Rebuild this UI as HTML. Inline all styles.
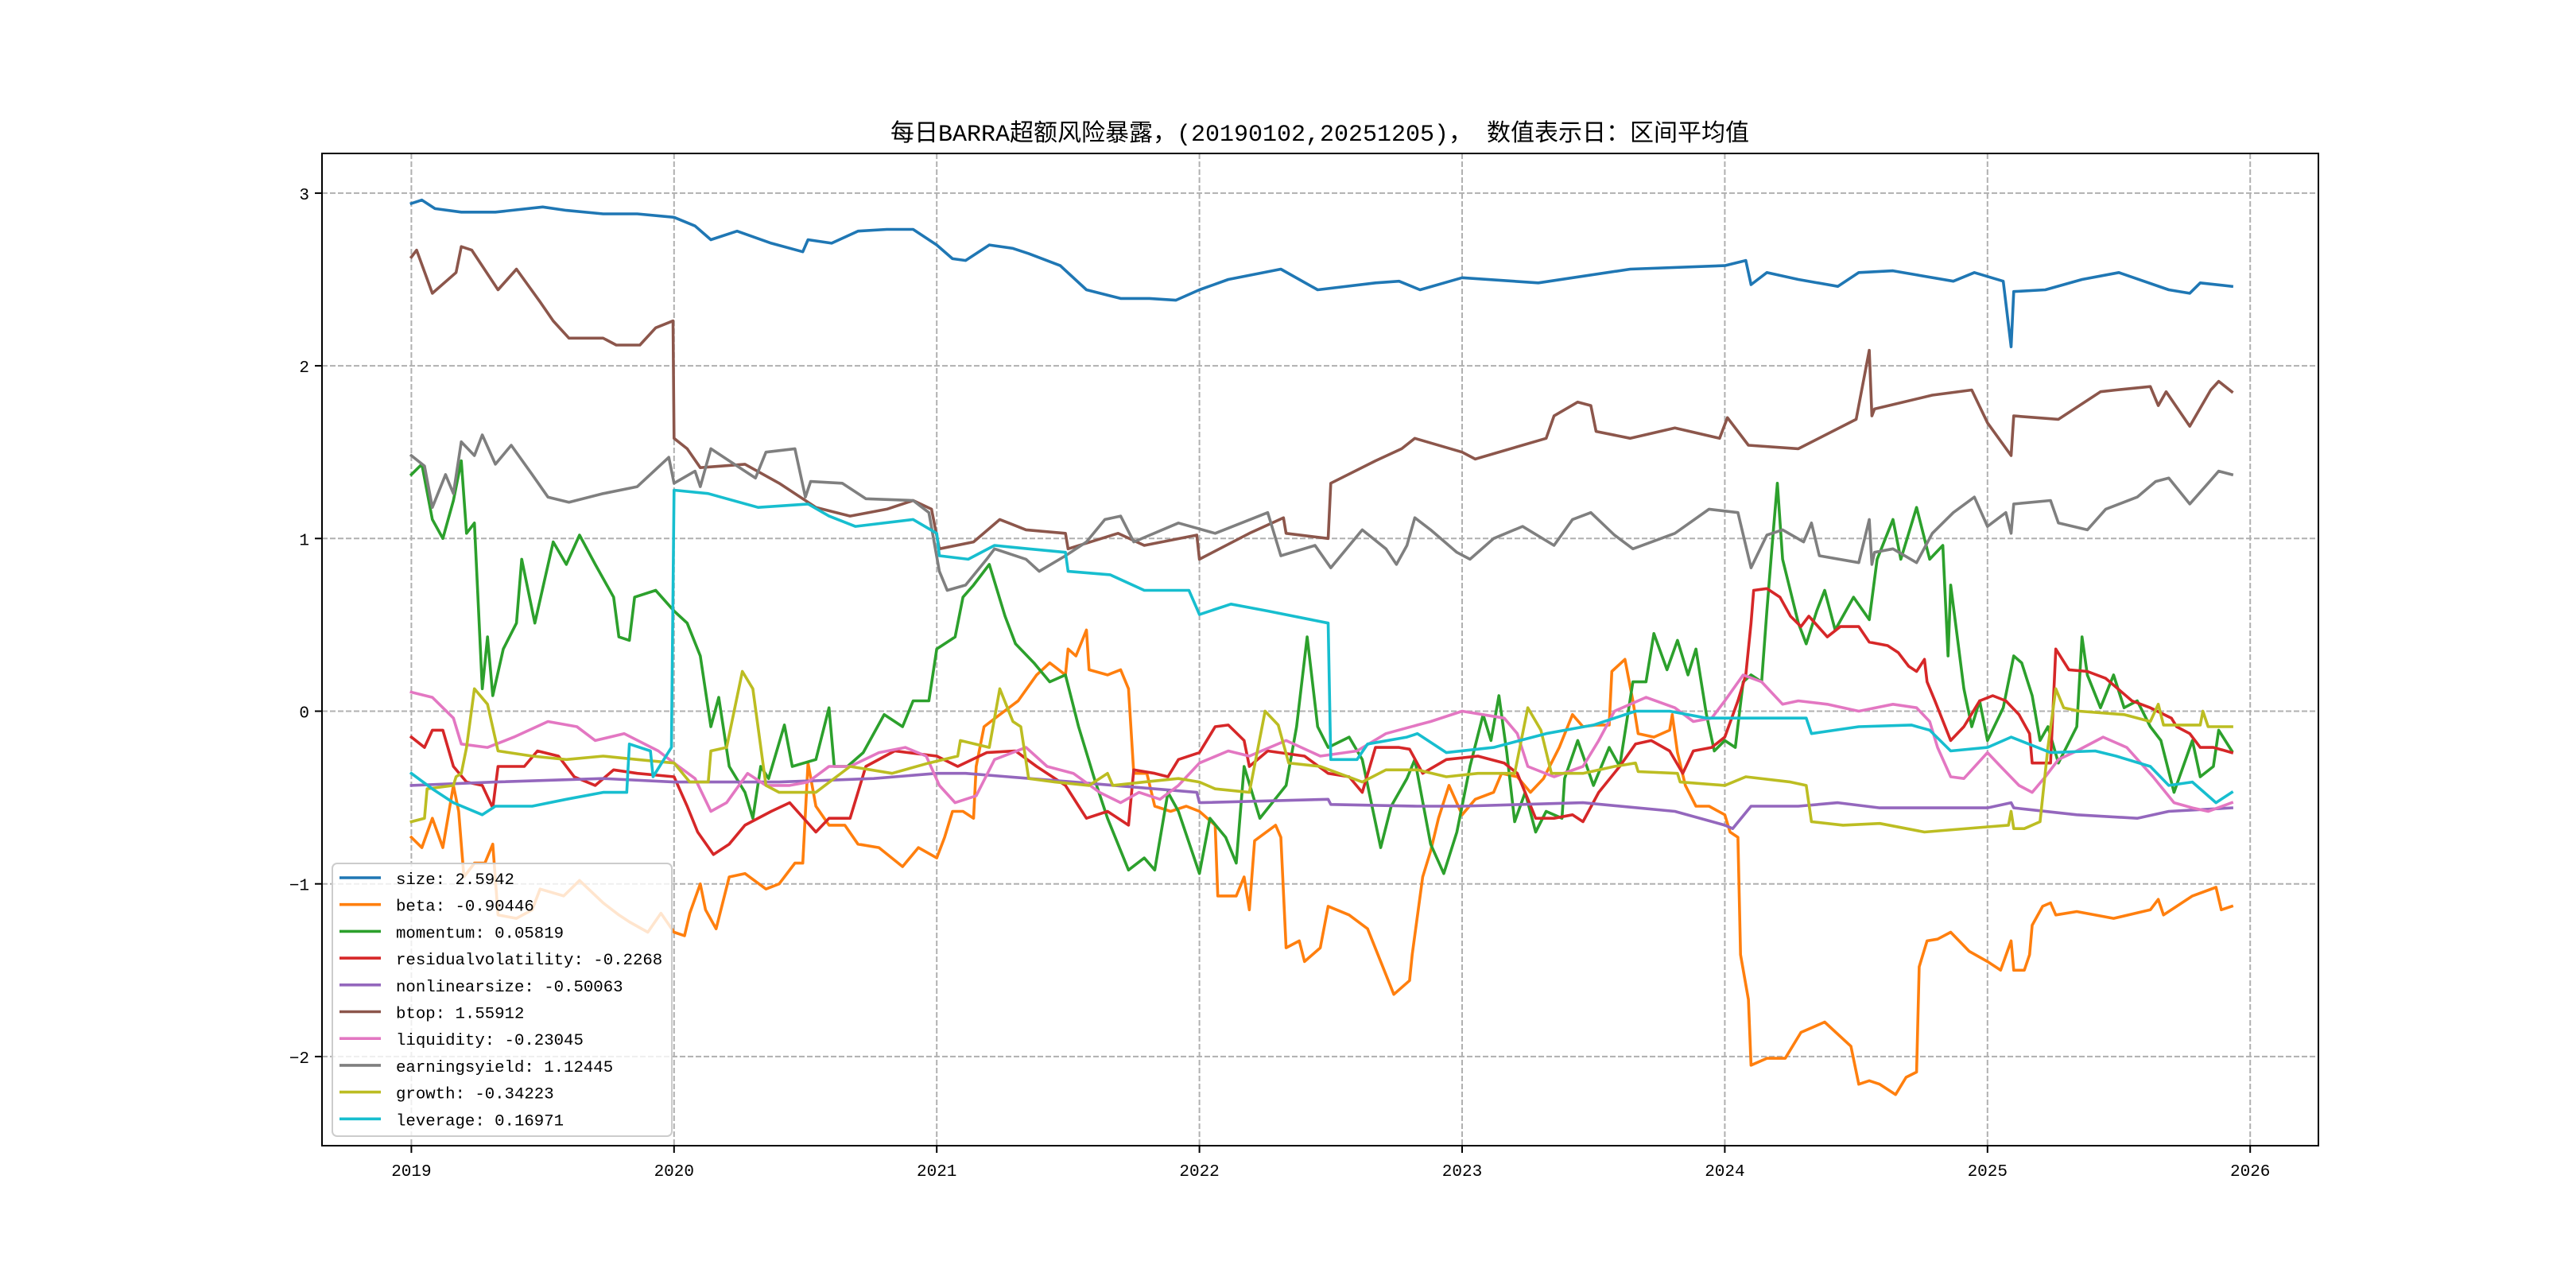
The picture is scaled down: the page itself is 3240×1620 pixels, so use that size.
<!DOCTYPE html>
<html><head><meta charset="utf-8">
<style>
html,body{margin:0;padding:0;background:#fff;}
svg{display:block;}
text{font-family:"Liberation Mono","Noto Sans CJK SC",monospace;}
</style></head>
<body>
<svg id="chart" width="3240" height="1620" viewBox="0 0 3240 1620" xmlns="http://www.w3.org/2000/svg">
<rect x="0" y="0" width="3240" height="1620" fill="#ffffff"/>
<text x="1660" y="177" text-anchor="middle" font-size="30" fill="#000" style="font-family:'Liberation Mono','Noto Sans CJK SC',sans-serif;">每日BARRA超额风险暴露，(20190102,20251205)， 数值表示日：区间平均值</text>
<g id="grid"></g>
<g id="xticks"></g>
<g id="yticks"></g>
<g id="series"></g>
<rect x="405" y="193" width="2511" height="1248" fill="none" stroke="#000" stroke-width="2"/>
<g id="legend"></g>
</svg>
<script>
const seriesNames=["size","beta","momentum","residualvolatility","nonlinearsize","btop","liquidity","earningsyield","growth","leverage"];
const legendValues=["2.5942","-0.90446","0.05819","-0.2268","-0.50063","1.55912","-0.23045","1.12445","-0.34223","0.16971"];
const seriesColors=["#1f77b4","#ff7f0e","#2ca02c","#d62728","#9467bd","#8c564b","#e377c2","#7f7f7f","#bcbd22","#17becf"];
const xTicks=[2019,2020,2021,2022,2023,2024,2025,2026];
const yTicks=[-2,-1,0,1,2,3];

const sizeX=[2019.0,2019.04,2019.09,2019.19,2019.32,2019.5,2019.59,2019.73,2019.86,2020.0,2020.08,2020.14,2020.24,2020.37,2020.49,2020.51,2020.6,2020.7,2020.81,2020.91,2021.0,2021.06,2021.11,2021.2,2021.29,2021.35,2021.47,2021.57,2021.7,2021.81,2021.91,2022.0,2022.11,2022.31,2022.45,2022.67,2022.76,2022.84,2023.0,2023.29,2023.64,2024.0,2024.08,2024.1,2024.16,2024.28,2024.43,2024.51,2024.64,2024.87,2024.95,2025.06,2025.09,2025.1,2025.22,2025.36,2025.5,2025.69,2025.77,2025.81,2025.93];
const sizeY=[2.94,2.96,2.91,2.89,2.89,2.92,2.9,2.88,2.88,2.86,2.81,2.73,2.78,2.71,2.66,2.73,2.71,2.78,2.79,2.79,2.7,2.62,2.61,2.7,2.68,2.65,2.58,2.44,2.39,2.39,2.38,2.44,2.5,2.56,2.44,2.48,2.49,2.44,2.51,2.48,2.56,2.58,2.61,2.47,2.54,2.5,2.46,2.54,2.55,2.49,2.54,2.49,2.11,2.43,2.44,2.5,2.54,2.44,2.42,2.48,2.46];

const betaX=[2019.0,2019.04,2019.08,2019.12,2019.16,2019.18,2019.2,2019.24,2019.28,2019.31,2019.33,2019.4,2019.46,2019.49,2019.58,2019.64,2019.73,2019.79,2019.83,2019.9,2019.95,2020.0,2020.04,2020.06,2020.1,2020.12,2020.16,2020.21,2020.27,2020.35,2020.4,2020.46,2020.49,2020.51,2020.54,2020.59,2020.65,2020.7,2020.78,2020.87,2020.93,2021.0,2021.03,2021.06,2021.1,2021.14,2021.15,2021.18,2021.24,2021.31,2021.38,2021.43,2021.49,2021.5,2021.53,2021.57,2021.58,2021.65,2021.7,2021.73,2021.75,2021.8,2021.83,2021.89,2021.95,2022.0,2022.06,2022.07,2022.14,2022.17,2022.19,2022.21,2022.29,2022.31,2022.33,2022.38,2022.4,2022.46,2022.49,2022.57,2022.64,2022.69,2022.74,2022.8,2022.81,2022.85,2022.88,2022.91,2022.95,2023.0,2023.05,2023.12,2023.15,2023.21,2023.26,2023.31,2023.37,2023.42,2023.46,2023.51,2023.56,2023.57,2023.62,2023.65,2023.67,2023.73,2023.79,2023.8,2023.82,2023.85,2023.89,2023.94,2024.0,2024.02,2024.05,2024.06,2024.09,2024.1,2024.16,2024.23,2024.29,2024.38,2024.48,2024.51,2024.55,2024.59,2024.65,2024.69,2024.73,2024.74,2024.77,2024.81,2024.86,2024.93,2025.0,2025.05,2025.09,2025.1,2025.14,2025.16,2025.17,2025.21,2025.24,2025.26,2025.34,2025.48,2025.62,2025.65,2025.67,2025.78,2025.87,2025.89,2025.93];
const betaY=[-0.73,-0.79,-0.62,-0.79,-0.43,-0.58,-0.96,-0.88,-0.88,-0.77,-1.18,-1.2,-1.15,-1.03,-1.07,-0.98,-1.11,-1.18,-1.22,-1.28,-1.17,-1.28,-1.3,-1.17,-1.0,-1.15,-1.26,-0.96,-0.94,-1.03,-1.0,-0.88,-0.88,-0.3,-0.55,-0.66,-0.66,-0.77,-0.79,-0.9,-0.79,-0.85,-0.73,-0.58,-0.58,-0.62,-0.32,-0.09,-0.02,0.06,0.21,0.28,0.21,0.36,0.32,0.47,0.24,0.21,0.24,0.13,-0.36,-0.36,-0.55,-0.58,-0.55,-0.58,-0.66,-1.07,-1.07,-0.96,-1.15,-0.75,-0.66,-0.73,-1.37,-1.33,-1.45,-1.37,-1.13,-1.18,-1.26,-1.45,-1.64,-1.56,-1.41,-0.96,-0.81,-0.62,-0.43,-0.6,-0.51,-0.47,-0.36,-0.38,-0.47,-0.39,-0.21,-0.02,-0.09,-0.08,-0.08,0.23,0.3,0.06,-0.13,-0.15,-0.11,-0.02,-0.24,-0.43,-0.55,-0.55,-0.6,-0.7,-0.73,-1.41,-1.67,-2.05,-2.01,-2.01,-1.86,-1.8,-1.94,-2.16,-2.14,-2.16,-2.22,-2.12,-2.09,-1.48,-1.33,-1.32,-1.28,-1.39,-1.45,-1.5,-1.33,-1.5,-1.5,-1.41,-1.24,-1.13,-1.11,-1.18,-1.16,-1.2,-1.15,-1.09,-1.18,-1.07,-1.02,-1.15,-1.13];

const momentumX=[2019.0,2019.04,2019.08,2019.12,2019.16,2019.19,2019.21,2019.24,2019.27,2019.29,2019.31,2019.35,2019.4,2019.42,2019.47,2019.54,2019.59,2019.64,2019.7,2019.77,2019.79,2019.83,2019.85,2019.93,2020.0,2020.05,2020.1,2020.14,2020.17,2020.21,2020.27,2020.3,2020.33,2020.36,2020.42,2020.45,2020.54,2020.59,2020.61,2020.66,2020.72,2020.8,2020.87,2020.91,2020.97,2021.0,2021.07,2021.1,2021.14,2021.2,2021.26,2021.3,2021.37,2021.43,2021.49,2021.54,2021.6,2021.65,2021.73,2021.79,2021.83,2021.88,2021.92,2022.0,2022.04,2022.1,2022.14,2022.17,2022.23,2022.33,2022.37,2022.41,2022.45,2022.49,2022.57,2022.62,2022.69,2022.73,2022.79,2022.82,2022.88,2022.93,2022.98,2023.03,2023.08,2023.11,2023.14,2023.17,2023.2,2023.24,2023.28,2023.32,2023.38,2023.39,2023.44,2023.5,2023.56,2023.6,2023.65,2023.7,2023.73,2023.78,2023.82,2023.86,2023.89,2023.93,2023.96,2024.0,2024.04,2024.07,2024.1,2024.14,2024.16,2024.18,2024.2,2024.22,2024.28,2024.31,2024.35,2024.38,2024.42,2024.49,2024.55,2024.58,2024.64,2024.67,2024.73,2024.78,2024.83,2024.85,2024.86,2024.91,2024.94,2024.97,2025.0,2025.06,2025.1,2025.13,2025.17,2025.2,2025.23,2025.27,2025.34,2025.36,2025.38,2025.43,2025.48,2025.52,2025.57,2025.62,2025.66,2025.71,2025.78,2025.81,2025.86,2025.88,2025.93];
const momentumY=[1.37,1.43,1.11,1.0,1.22,1.45,1.03,1.09,0.13,0.43,0.09,0.36,0.51,0.88,0.51,0.98,0.85,1.02,0.85,0.66,0.43,0.41,0.66,0.7,0.58,0.51,0.32,-0.09,0.08,-0.32,-0.47,-0.62,-0.32,-0.39,-0.08,-0.32,-0.28,0.02,-0.32,-0.32,-0.24,-0.02,-0.09,0.06,0.06,0.36,0.43,0.66,0.73,0.85,0.55,0.39,0.28,0.17,0.21,-0.09,-0.39,-0.62,-0.92,-0.85,-0.92,-0.47,-0.58,-0.94,-0.62,-0.73,-0.88,-0.32,-0.62,-0.43,-0.09,0.43,-0.09,-0.21,-0.15,-0.28,-0.79,-0.55,-0.39,-0.28,-0.77,-0.94,-0.7,-0.32,-0.02,-0.17,0.09,-0.24,-0.64,-0.47,-0.7,-0.58,-0.62,-0.39,-0.17,-0.43,-0.21,-0.32,0.17,0.17,0.45,0.24,0.41,0.21,0.36,-0.02,-0.23,-0.17,-0.21,0.17,0.21,0.17,0.58,0.96,1.32,0.88,0.51,0.39,0.58,0.7,0.47,0.66,0.53,0.88,1.11,0.88,1.18,0.88,0.96,0.32,0.73,0.13,-0.09,0.06,-0.17,0.02,0.32,0.28,0.09,-0.17,-0.09,-0.3,-0.09,0.43,0.21,0.02,0.21,0.02,0.06,-0.09,-0.17,-0.47,-0.17,-0.38,-0.32,-0.11,-0.23];

const residvolX=[2019.0,2019.05,2019.08,2019.12,2019.16,2019.21,2019.27,2019.31,2019.33,2019.43,2019.48,2019.56,2019.62,2019.7,2019.77,2019.86,2020.0,2020.05,2020.09,2020.15,2020.21,2020.27,2020.37,2020.44,2020.54,2020.59,2020.67,2020.73,2020.84,2021.0,2021.08,2021.19,2021.3,2021.38,2021.49,2021.57,2021.65,2021.73,2021.75,2021.83,2021.88,2021.92,2022.0,2022.06,2022.11,2022.17,2022.19,2022.26,2022.4,2022.49,2022.57,2022.62,2022.67,2022.76,2022.8,2022.85,2022.94,2023.06,2023.16,2023.21,2023.28,2023.35,2023.42,2023.46,2023.52,2023.6,2023.66,2023.72,2023.79,2023.84,2023.88,2023.95,2024.0,2024.05,2024.08,2024.1,2024.11,2024.16,2024.21,2024.25,2024.29,2024.32,2024.39,2024.44,2024.51,2024.55,2024.62,2024.66,2024.7,2024.73,2024.76,2024.77,2024.8,2024.86,2024.91,2024.97,2025.02,2025.07,2025.12,2025.16,2025.17,2025.24,2025.26,2025.31,2025.38,2025.45,2025.55,2025.62,2025.7,2025.72,2025.77,2025.81,2025.86,2025.93];
const residvolY=[-0.15,-0.21,-0.11,-0.11,-0.32,-0.41,-0.43,-0.56,-0.32,-0.32,-0.23,-0.26,-0.38,-0.43,-0.34,-0.36,-0.38,-0.55,-0.7,-0.83,-0.77,-0.66,-0.58,-0.53,-0.7,-0.62,-0.62,-0.32,-0.23,-0.26,-0.32,-0.24,-0.23,-0.32,-0.43,-0.62,-0.58,-0.66,-0.34,-0.36,-0.38,-0.28,-0.24,-0.09,-0.08,-0.17,-0.32,-0.23,-0.26,-0.36,-0.38,-0.47,-0.21,-0.21,-0.22,-0.36,-0.28,-0.26,-0.3,-0.36,-0.62,-0.62,-0.6,-0.64,-0.47,-0.32,-0.19,-0.17,-0.23,-0.36,-0.23,-0.21,-0.15,0.06,0.21,0.51,0.7,0.71,0.66,0.55,0.49,0.55,0.43,0.49,0.49,0.4,0.38,0.34,0.26,0.23,0.3,0.17,0.06,-0.17,-0.09,0.06,0.09,0.06,-0.02,-0.13,-0.3,-0.3,0.36,0.24,0.23,0.19,0.06,0.02,-0.04,-0.09,-0.13,-0.21,-0.21,-0.24];

const nonlinX=[2019.0,2019.32,2019.73,2020.0,2020.4,2020.76,2021.0,2021.11,2021.52,2021.99,2022.0,2022.49,2022.5,2022.83,2023.0,2023.46,2023.81,2024.0,2024.03,2024.1,2024.28,2024.43,2024.59,2025.0,2025.09,2025.1,2025.34,2025.57,2025.69,2025.93];
const nonlinY=[-0.43,-0.41,-0.39,-0.41,-0.41,-0.39,-0.36,-0.36,-0.41,-0.47,-0.53,-0.51,-0.54,-0.55,-0.55,-0.53,-0.58,-0.66,-0.68,-0.55,-0.55,-0.53,-0.56,-0.56,-0.53,-0.56,-0.6,-0.62,-0.58,-0.56];

const btopX=[2019.0,2019.02,2019.08,2019.17,2019.19,2019.23,2019.33,2019.4,2019.49,2019.54,2019.6,2019.73,2019.78,2019.87,2019.93,2019.996,2020.0,2020.05,2020.1,2020.27,2020.4,2020.54,2020.67,2020.81,2020.91,2020.98,2021.01,2021.14,2021.24,2021.34,2021.49,2021.5,2021.69,2021.79,2021.99,2022.0,2022.19,2022.32,2022.33,2022.49,2022.5,2022.67,2022.77,2022.82,2023.0,2023.05,2023.32,2023.35,2023.44,2023.49,2023.51,2023.64,2023.81,2023.98,2024.01,2024.09,2024.28,2024.5,2024.55,2024.56,2024.57,2024.79,2024.94,2025.0,2025.09,2025.1,2025.27,2025.43,2025.49,2025.62,2025.65,2025.68,2025.77,2025.85,2025.88,2025.93];
const btopY=[2.63,2.67,2.42,2.54,2.69,2.67,2.44,2.56,2.37,2.26,2.16,2.16,2.12,2.12,2.22,2.26,1.58,1.52,1.41,1.43,1.32,1.18,1.13,1.17,1.22,1.17,0.94,0.98,1.11,1.05,1.03,0.94,1.03,0.96,1.02,0.88,1.03,1.12,1.03,1.0,1.32,1.45,1.52,1.58,1.5,1.46,1.58,1.71,1.79,1.77,1.62,1.58,1.64,1.58,1.7,1.54,1.52,1.69,2.09,1.71,1.75,1.83,1.86,1.67,1.48,1.71,1.69,1.85,1.86,1.88,1.77,1.85,1.65,1.86,1.91,1.85];

const liquidityX=[2019.0,2019.08,2019.16,2019.19,2019.29,2019.39,2019.52,2019.63,2019.7,2019.81,2019.94,2020.0,2020.08,2020.14,2020.2,2020.28,2020.35,2020.44,2020.51,2020.59,2020.67,2020.78,2020.88,2020.96,2021.01,2021.07,2021.15,2021.22,2021.34,2021.42,2021.52,2021.62,2021.7,2021.77,2021.85,2021.92,2022.0,2022.11,2022.19,2022.33,2022.46,2022.6,2022.71,2022.83,2022.88,2023.0,2023.16,2023.21,2023.25,2023.35,2023.46,2023.52,2023.58,2023.7,2023.81,2023.88,2023.95,2024.0,2024.07,2024.14,2024.22,2024.28,2024.39,2024.51,2024.64,2024.73,2024.78,2024.81,2024.86,2024.91,2025.0,2025.05,2025.12,2025.17,2025.22,2025.27,2025.34,2025.44,2025.53,2025.63,2025.71,2025.78,2025.84,2025.93];
const liquidityY=[0.11,0.08,-0.04,-0.19,-0.21,-0.15,-0.06,-0.09,-0.17,-0.13,-0.23,-0.3,-0.39,-0.58,-0.53,-0.36,-0.43,-0.43,-0.41,-0.32,-0.32,-0.24,-0.21,-0.26,-0.43,-0.53,-0.49,-0.28,-0.21,-0.32,-0.36,-0.47,-0.53,-0.47,-0.51,-0.43,-0.3,-0.23,-0.26,-0.17,-0.26,-0.23,-0.13,-0.08,-0.06,0.0,-0.04,-0.13,-0.32,-0.38,-0.32,-0.17,0.0,0.08,0.02,-0.06,-0.04,0.06,0.21,0.17,0.04,0.06,0.04,0.0,0.04,0.02,-0.06,-0.21,-0.38,-0.39,-0.24,-0.32,-0.43,-0.47,-0.38,-0.28,-0.23,-0.15,-0.21,-0.38,-0.53,-0.56,-0.58,-0.53];

const earningsX=[2019.0,2019.05,2019.08,2019.13,2019.16,2019.19,2019.24,2019.27,2019.32,2019.38,2019.46,2019.52,2019.6,2019.73,2019.86,2019.98,2020.0,2020.08,2020.1,2020.14,2020.21,2020.31,2020.35,2020.46,2020.5,2020.52,2020.64,2020.73,2020.91,2020.97,2021.01,2021.04,2021.11,2021.19,2021.22,2021.34,2021.39,2021.49,2021.57,2021.64,2021.7,2021.75,2021.92,2022.06,2022.26,2022.31,2022.44,2022.5,2022.62,2022.71,2022.75,2022.79,2022.82,2022.88,2022.98,2023.03,2023.12,2023.23,2023.35,2023.42,2023.49,2023.58,2023.65,2023.81,2023.94,2024.05,2024.1,2024.16,2024.22,2024.3,2024.33,2024.36,2024.51,2024.55,2024.56,2024.57,2024.64,2024.73,2024.79,2024.87,2024.95,2025.0,2025.07,2025.09,2025.1,2025.24,2025.27,2025.38,2025.45,2025.57,2025.64,2025.69,2025.77,2025.84,2025.88,2025.93];
const earningsY=[1.48,1.42,1.18,1.37,1.26,1.56,1.48,1.6,1.43,1.54,1.37,1.24,1.21,1.26,1.3,1.47,1.32,1.39,1.3,1.52,1.45,1.35,1.5,1.52,1.24,1.33,1.32,1.23,1.22,1.15,0.81,0.7,0.73,0.88,0.94,0.88,0.81,0.9,0.98,1.11,1.13,0.98,1.09,1.03,1.15,0.9,0.96,0.83,1.05,0.94,0.85,0.96,1.12,1.05,0.92,0.88,1.0,1.07,0.96,1.11,1.15,1.02,0.94,1.03,1.17,1.15,0.83,1.02,1.05,0.98,1.09,0.9,0.86,1.11,0.85,0.92,0.94,0.86,1.03,1.15,1.24,1.07,1.15,1.03,1.2,1.22,1.09,1.05,1.17,1.24,1.33,1.35,1.2,1.32,1.39,1.37];

const growthX=[2019.0,2019.05,2019.06,2019.16,2019.17,2019.19,2019.21,2019.24,2019.29,2019.33,2019.46,2019.59,2019.73,2019.86,2020.0,2020.06,2020.13,2020.14,2020.2,2020.26,2020.3,2020.35,2020.4,2020.54,2020.67,2020.83,2020.97,2021.08,2021.09,2021.2,2021.24,2021.29,2021.32,2021.35,2021.45,2021.58,2021.65,2021.67,2021.79,2021.92,2022.0,2022.06,2022.19,2022.25,2022.3,2022.34,2022.46,2022.62,2022.71,2022.83,2022.94,2023.06,2023.2,2023.25,2023.3,2023.34,2023.46,2023.58,2023.66,2023.67,2023.82,2023.83,2024.0,2024.08,2024.25,2024.31,2024.33,2024.45,2024.59,2024.76,2025.0,2025.08,2025.09,2025.1,2025.14,2025.2,2025.23,2025.26,2025.29,2025.35,2025.52,2025.62,2025.65,2025.67,2025.81,2025.82,2025.84,2025.93];
const growthY=[-0.64,-0.62,-0.45,-0.43,-0.38,-0.36,-0.21,0.13,0.04,-0.23,-0.26,-0.28,-0.26,-0.28,-0.3,-0.41,-0.41,-0.23,-0.21,0.23,0.13,-0.43,-0.47,-0.47,-0.32,-0.36,-0.3,-0.26,-0.17,-0.21,0.13,-0.06,-0.09,-0.39,-0.41,-0.43,-0.36,-0.43,-0.41,-0.39,-0.41,-0.45,-0.47,0.0,-0.08,-0.3,-0.32,-0.41,-0.34,-0.34,-0.38,-0.36,-0.36,0.02,-0.11,-0.36,-0.36,-0.32,-0.3,-0.35,-0.36,-0.41,-0.43,-0.38,-0.41,-0.43,-0.64,-0.66,-0.65,-0.7,-0.67,-0.66,-0.58,-0.68,-0.68,-0.64,-0.21,0.13,0.02,0.0,-0.02,-0.06,0.04,-0.08,-0.08,0.0,-0.09,-0.09];

const leverageX=[2019.0,2019.08,2019.16,2019.27,2019.32,2019.46,2019.59,2019.73,2019.82,2019.83,2019.91,2019.92,2019.99,2020.0,2020.13,2020.32,2020.51,2020.59,2020.69,2020.91,2021.0,2021.01,2021.12,2021.22,2021.35,2021.49,2021.5,2021.66,2021.79,2021.96,2022.0,2022.12,2022.26,2022.49,2022.5,2022.6,2022.64,2022.79,2022.83,2022.94,2023.12,2023.32,2023.5,2023.66,2023.79,2023.93,2024.05,2024.31,2024.33,2024.51,2024.71,2024.78,2024.86,2025.0,2025.09,2025.24,2025.41,2025.49,2025.62,2025.69,2025.78,2025.87,2025.93];
const leverageY=[-0.36,-0.45,-0.53,-0.6,-0.55,-0.55,-0.51,-0.47,-0.47,-0.19,-0.23,-0.38,-0.21,1.28,1.26,1.18,1.2,1.13,1.07,1.11,1.03,0.9,0.88,0.96,0.94,0.92,0.81,0.79,0.7,0.7,0.56,0.62,0.58,0.51,-0.28,-0.28,-0.19,-0.15,-0.13,-0.24,-0.21,-0.13,-0.08,0.0,0.0,-0.04,-0.04,-0.04,-0.13,-0.09,-0.08,-0.11,-0.23,-0.21,-0.15,-0.24,-0.23,-0.26,-0.32,-0.43,-0.41,-0.53,-0.47];

const allX=[sizeX,betaX,momentumX,residvolX,nonlinX,btopX,liquidityX,earningsX,growthX,leverageX];
const allY=[sizeY,betaY,momentumY,residvolY,nonlinY,btopY,liquidityY,earningsY,growthY,leverageY];

const NS="http://www.w3.org/2000/svg";
const PL=405,PR=2916,PT=193,PB=1441;
function xScale(t){return 517.4+(t-2019)*330.4;}
function yScale(v){return 894.5-v*217.2;}
function mk(tag,attrs,parent){const e=document.createElementNS(NS,tag);for(const k in attrs)e.setAttribute(k,attrs[k]);parent.appendChild(e);return e;}

const grid=document.getElementById('grid');
const xt=document.getElementById('xticks');
const yt=document.getElementById('yticks');
xTicks.forEach(function(t){
  const x=xScale(t);
  const g=mk('line',{x1:x,x2:x,y1:PT,y2:PB,stroke:'#b0b0b0','stroke-width':2,'stroke-dasharray':'7,3'},grid);
  
  
  const tk=mk('line',{x1:x,x2:x,y1:PB,y2:PB+9,stroke:'#000','stroke-width':2},xt);
  
  
  const lb=mk('text',{x:x,y:PB+38,'text-anchor':'middle','font-size':21,fill:'#000'},xt);
  lb.textContent=String(t);
  
  
});
yTicks.forEach(function(v){
  const y=yScale(v);
  const g=mk('line',{x1:PL,x2:PR,y1:y,y2:y,stroke:'#b0b0b0','stroke-width':2,'stroke-dasharray':'7,3'},grid);
  
  
  const tk=mk('line',{x1:PL-9,x2:PL,y1:y,y2:y,stroke:'#000','stroke-width':2},yt);
  
  
  const lb=mk('text',{x:PL-16,y:y+8,'text-anchor':'end','font-size':21,fill:'#000'},yt);
  lb.textContent=(v<0?'\u2212':'')+Math.abs(v);
  
  
});

const sg=document.getElementById('series');
seriesNames.forEach(function(n,i){
  const xs=allX[i],ys=allY[i];
  let d='';
  for(let j=0;j<xs.length;j++){d+=(j?'L':'M')+xScale(xs[j]).toFixed(1)+','+yScale(ys[j]).toFixed(1);}
  const p=mk('path',{d:d,fill:'none',stroke:seriesColors[i],'stroke-width':3.6,'stroke-linejoin':'round','stroke-linecap':'square'},sg);
  
  
});

const lg=document.getElementById('legend');
const box=mk('rect',{x:418,y:1086,width:427,height:343,rx:6,fill:'#ffffff','fill-opacity':0.8,stroke:'#cccccc','stroke-width':2},lg);


seriesNames.forEach(function(n,i){
  const y=1104+i*33.7;
  const g=mk('g',{},lg);
  
  
  const l=mk('line',{x1:427,x2:479,y1:y,y2:y,stroke:seriesColors[i],'stroke-width':3.6},g);
  
  
  const t=mk('text',{x:498,y:y+8,'font-size':20.7,fill:'#000'},g);
  t.textContent=n+': '+legendValues[i];
  
  
});
</script>
</body></html>
